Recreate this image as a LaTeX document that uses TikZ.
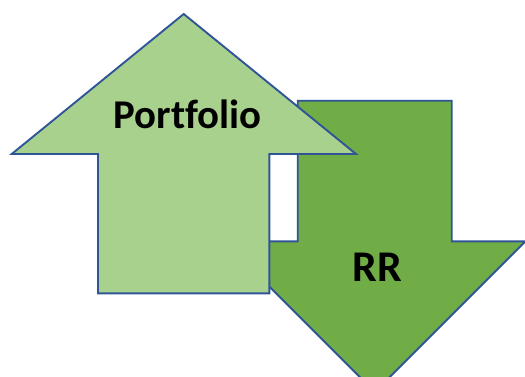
\documentclass[tikz,border=0pt]{standalone}
\usepackage{fontspec}
\setmainfont{Carlito}[Ligatures=NoCommon]
\begin{document}
\begin{tikzpicture}[x=1bp,y=-1bp,
  outline/.style={draw={rgb,255:red,47;green,85;blue,151},line width=1.9bp,line join=miter},
  lightfill/.style={fill={rgb,255:red,169;green,209;blue,142}},
  darkfill/.style={fill={rgb,255:red,112;green,173;blue,71}},
  lbl/.style={inner sep=0pt,anchor=base,font=\bfseries}]
\useasboundingbox (0,0) rectangle (525,376);
\begin{scope}
\clip (0,0) rectangle (525,376);
% down arrow
\draw[outline,darkfill] (297.7,100.7) -- (451.7,100.7) -- (451.7,241.3) -- (525.4,241.3)
  -- (374.7,392) -- (224,241.3) -- (297.7,241.3) -- cycle;
% up arrow
\draw[outline,lightfill] (183.7,14) -- (356,154) -- (269.3,154) -- (269.3,293.3)
  -- (98,293.3) -- (98,154) -- (11.7,154) -- cycle;
\end{scope}
\node[lbl,font=\fontsize{41}{42}\selectfont\bfseries] (portfolio) at (187.5,128.3) {Portfolio};
\node[lbl,font=\fontsize{44}{45}\selectfont\bfseries] (rr) at (377.5,281.7) {RR};
\end{tikzpicture}
\end{document}
